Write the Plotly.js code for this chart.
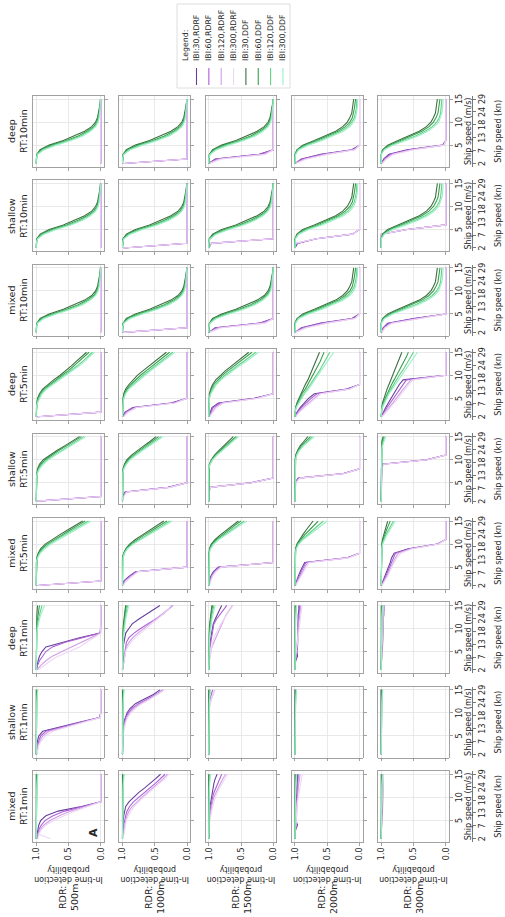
<!DOCTYPE html>
<html><head><meta charset="utf-8">
<script src="https://cdn.plot.ly/plotly-3.0.1.min.js"></script>
<style>
html,body{margin:0;padding:0;overflow:hidden;background:#fff;width:505px;height:917px;}
#wrap{position:absolute;left:0;top:0;width:917px;height:505px;transform-origin:0 0;transform:translate(0,917px) rotate(-90deg);}
#chart{width:917px;height:505px;}
</style></head><body><div id="wrap"><div id="chart"></div></div>
<script>
// ---------- categories / labels ----------
const speeds = [1,2,3,4,5,6,7,8,9,10,11,12,13,14,15];
const columnSites = ['mixed','shallow','deep','mixed','shallow','deep','mixed','shallow','deep'];
const columnRT = ['RT:1min','RT:1min','RT:1min','RT:5min','RT:5min','RT:5min','RT:10min','RT:10min','RT:10min'];
const rdrLabels = ['500m','1000m','1500m','2000m','3000m'];
const seriesNames = ['IBI:30,RDRF','IBI:60,RDRF','IBI:120,RDRF','IBI:300,RDRF','IBI:30,DDF','IBI:60,DDF','IBI:120,DDF','IBI:300,DDF'];
const seriesColors = ['#66409a','#ae5ed8','#d09fe6','#eed7f5','#3f6e45','#37a04c','#62d184','#97f0c8'];
const probTickVals = [0,0.5,1];
const probTickText = ['0.0','0.5','1.0'];
const speedTickVals = [5,10,15];
const knTickVals = [1,3.8,6.6,9.4,12.2,15];
const knTickText = ['2','7','13','18','24','29'];

// ---------- series values (probability at each speed) ----------
const zeros = [0,0,0,0,0,0,0,0,0,0,0,0,0,0,0];
const ones = [1,1,1,1,1,1,1,1,1,1,1,1,1,1,1];
const earlyDrop = [0.98,0,0,0,0,0,0,0,0,0,0,0,0,0,0];

// RT 1 min, RDRF
const rdrf_m1_500 = [
 [1,0.99,0.98,0.96,0.93,0.85,0.66,0.3,0,0,0,0,0,0,0],
 [0.99,0.98,0.96,0.92,0.86,0.74,0.56,0.27,0,0,0,0,0,0,0],
 [0.98,0.97,0.94,0.88,0.78,0.64,0.47,0.23,0,0,0,0,0,0,0],
 [0.78,0.96,0.92,0.85,0.72,0.57,0.4,0.2,0,0,0,0,0,0,0]];
const rdrf_m1_1000 = [
 [1,1,1,0.99,0.99,0.98,0.97,0.95,0.9,0.83,0.75,0.66,0.57,0.49,0.41],
 [1,1,0.99,0.98,0.97,0.95,0.93,0.89,0.83,0.75,0.67,0.58,0.49,0.41,0.34],
 [1,0.99,0.98,0.97,0.95,0.93,0.9,0.85,0.78,0.7,0.62,0.53,0.45,0.37,0.3],
 [0.99,0.98,0.97,0.96,0.94,0.91,0.87,0.82,0.75,0.67,0.58,0.5,0.42,0.35,0.28]];
const rdrf_m1_1500 = [
 [1,1,1,1,1,0.99,0.99,0.98,0.97,0.96,0.95,0.94,0.92,0.9,0.87],
 [1,1,1,1,0.99,0.99,0.98,0.97,0.96,0.94,0.92,0.89,0.86,0.83,0.8],
 [1,1,1,0.99,0.99,0.98,0.97,0.96,0.94,0.92,0.89,0.86,0.82,0.78,0.74],
 [1,1,0.99,0.99,0.98,0.97,0.96,0.94,0.92,0.9,0.87,0.83,0.79,0.75,0.71]];
const rdrf_m1_2000 = [
 [1,1,0.99,0.96,0.99,0.99,0.98,0.98,0.98,0.97,0.97,0.97,0.96,0.96,0.96],
 [1,1,0.99,0.98,0.98,0.98,0.98,0.97,0.97,0.97,0.96,0.96,0.96,0.95,0.95],
 [1,1,1,0.98,0.98,0.98,0.97,0.97,0.97,0.96,0.96,0.95,0.94,0.93,0.92],
 [1,1,1,0.99,0.98,0.98,0.97,0.97,0.96,0.95,0.94,0.93,0.91,0.9,0.88]];
const rdrf_m1_3000 = [
 [1,1,1,0.99,0.99,0.99,0.98,0.98,0.98,0.98,0.98,0.98,0.98,0.98,0.98],
 [1,1,1,1,0.99,0.99,0.99,0.98,0.98,0.98,0.98,0.98,0.98,0.97,0.97],
 [1,1,1,1,0.99,0.99,0.99,0.99,0.98,0.98,0.98,0.98,0.97,0.97,0.97],
 [1,1,1,1,1,0.99,0.99,0.99,0.99,0.98,0.98,0.98,0.97,0.97,0.96]];
const rdrf_s1_500 = [
 [1,1,0.99,0.98,0.96,0.9,0.63,0.32,0.02,0,0,0,0,0,0],
 [1,0.99,0.98,0.96,0.93,0.85,0.58,0.3,0.02,0,0,0,0,0,0],
 [0.99,0.98,0.97,0.94,0.9,0.8,0.54,0.27,0.01,0,0,0,0,0,0],
 [0.99,0.98,0.96,0.92,0.86,0.74,0.5,0.25,0.01,0,0,0,0,0,0]];
const rdrf_s1_1000 = [
 [1,1,1,1,1,1,0.99,0.98,0.96,0.93,0.88,0.8,0.66,0.52,0.42],
 [1,1,1,1,1,0.99,0.98,0.97,0.95,0.91,0.85,0.75,0.62,0.48,0.38],
 [1,1,1,1,0.99,0.99,0.98,0.96,0.93,0.89,0.82,0.72,0.59,0.46,0.36],
 [1,1,1,1,0.99,0.98,0.97,0.95,0.92,0.87,0.8,0.7,0.57,0.45,0.35]];
const rdrf_s1_1500 = [
 [1,1,1,1,1,1,1,1,1,1,1,1,0.99,0.99,0.98],
 [1,1,1,1,1,1,1,1,1,1,1,0.99,0.98,0.96,0.94],
 [1,1,1,1,1,1,1,1,1,1,0.99,0.98,0.96,0.94,0.91],
 [1,1,1,1,1,1,1,1,1,1,0.99,0.98,0.96,0.93,0.9]];
const rdrf_s1_high = [ones, ones, ones, ones];
const rdrf_d1_500 = [
 [1,0.99,0.97,0.95,0.91,0.85,0.61,0.33,0.01,0,0,0,0,0,0],
 [0.99,0.98,0.95,0.9,0.85,0.75,0.55,0.28,0.01,0,0,0,0,0,0],
 [0.99,0.93,0.85,0.75,0.6,0.45,0.3,0.15,0,0,0,0,0,0,0],
 [0.97,0.88,0.78,0.66,0.48,0.33,0.22,0.11,0,0,0,0,0,0,0]];
const rdrf_d1_1000 = [
 [1,0.99,0.98,0.99,1,0.99,0.98,0.97,0.95,0.9,0.85,0.75,0.64,0.53,0.42],
 [1,0.99,0.98,0.98,0.97,0.96,0.94,0.9,0.82,0.72,0.6,0.48,0.38,0.3,0.22],
 [1,0.99,0.98,0.97,0.96,0.94,0.9,0.84,0.76,0.67,0.58,0.49,0.4,0.31,0.22],
 [1,0.99,0.98,0.97,0.95,0.92,0.87,0.8,0.72,0.63,0.55,0.46,0.38,0.3,0.25]];
const rdrf_d1_1500 = [
 [1,1,1,1,0.99,0.99,0.98,0.97,0.96,0.95,0.93,0.9,0.87,0.84,0.8],
 [1,1,1,0.99,0.99,0.98,0.97,0.96,0.95,0.94,0.92,0.88,0.83,0.78,0.72],
 [1,1,0.99,0.98,0.97,0.95,0.92,0.89,0.86,0.83,0.8,0.77,0.73,0.68,0.63],
 [1,1,0.99,0.98,0.97,0.96,0.94,0.92,0.89,0.85,0.81,0.77,0.72,0.67,0.62]];
const rdrf_d1_2000 = [
 [1,1,0.99,0.96,0.97,0.96,0.96,0.96,0.96,0.95,0.95,0.95,0.95,0.94,0.94],
 [1,1,0.99,0.98,0.97,0.97,0.96,0.96,0.95,0.95,0.95,0.94,0.94,0.93,0.93],
 [1,1,1,0.99,0.98,0.97,0.97,0.96,0.96,0.95,0.94,0.94,0.93,0.92,0.91],
 [1,1,1,0.99,0.98,0.97,0.96,0.96,0.95,0.94,0.93,0.92,0.91,0.9,0.89]];
const rdrf_d1_3000 = [
 [1,1,1,0.99,0.99,0.98,0.98,0.98,0.97,0.97,0.97,0.97,0.96,0.96,0.96],
 [1,1,1,0.99,0.99,0.99,0.98,0.98,0.98,0.97,0.97,0.97,0.97,0.96,0.96],
 [1,1,1,1,0.99,0.99,0.98,0.98,0.98,0.98,0.97,0.97,0.97,0.97,0.96],
 [1,1,1,1,0.99,0.99,0.99,0.98,0.98,0.98,0.98,0.97,0.97,0.97,0.97]];

// RT 5 min, RDRF
const rdrf_5_500 = [earlyDrop, earlyDrop, earlyDrop, earlyDrop];
const rdrf_m5_1000 = [
 [1,0.98,0.9,0.8,0,0,0,0,0,0,0,0,0,0,0],
 [1,0.97,0.89,0.79,0,0,0,0,0,0,0,0,0,0,0],
 [0.99,0.95,0.86,0.77,0,0,0,0,0,0,0,0,0,0,0],
 [0.99,0.94,0.85,0.76,0,0,0,0,0,0,0,0,0,0,0]];
const rdrf_m5_1500 = [
 [1,0.99,0.97,0.93,0.85,0,0,0,0,0,0,0,0,0,0],
 [1,0.98,0.96,0.91,0.83,0,0,0,0,0,0,0,0,0,0],
 [1,0.98,0.95,0.9,0.82,0,0,0,0,0,0,0,0,0,0],
 [0.99,0.97,0.94,0.89,0.8,0,0,0,0,0,0,0,0,0,0]];
const rdrf_m5_2000 = [
 [1,0.98,0.95,0.92,0.89,0.85,0.2,0,0,0,0,0,0,0,0],
 [1,0.97,0.94,0.9,0.87,0.83,0.2,0,0,0,0,0,0,0,0],
 [0.99,0.96,0.92,0.88,0.85,0.8,0.18,0,0,0,0,0,0,0,0],
 [0.99,0.95,0.91,0.87,0.83,0.78,0.17,0,0,0,0,0,0,0,0]];
const rdrf_m5_3000 = [
 [1,0.97,0.94,0.91,0.88,0.86,0.84,0.8,0.58,0.13,0,0,0,0,0],
 [1,0.96,0.93,0.9,0.87,0.85,0.82,0.78,0.56,0.12,0,0,0,0,0],
 [0.99,0.95,0.91,0.88,0.85,0.82,0.78,0.74,0.54,0.12,0,0,0,0,0],
 [0.99,0.94,0.9,0.87,0.84,0.8,0.76,0.7,0.52,0.11,0,0,0,0,0]];
const rdrf_s5_1000 = [
 [1,1,0.96,0.3,0,0,0,0,0,0,0,0,0,0,0],
 [1,0.99,0.95,0.28,0,0,0,0,0,0,0,0,0,0,0],
 [1,0.99,0.94,0.27,0,0,0,0,0,0,0,0,0,0,0],
 [1,0.98,0.93,0.26,0,0,0,0,0,0,0,0,0,0,0]];
const rdrf_s5_1500 = [
 [1,1,1,0.99,0.35,0,0,0,0,0,0,0,0,0,0],
 [1,1,0.99,0.98,0.34,0,0,0,0,0,0,0,0,0,0],
 [1,1,0.99,0.98,0.33,0,0,0,0,0,0,0,0,0,0],
 [1,1,0.99,0.98,0.33,0,0,0,0,0,0,0,0,0,0]];
const rdrf_s5_2000 = [
 [1,1,1,1,1,0.95,0.25,0,0,0,0,0,0,0,0],
 [1,1,1,1,0.99,0.94,0.24,0,0,0,0,0,0,0,0],
 [1,1,1,1,0.99,0.93,0.23,0,0,0,0,0,0,0,0],
 [1,1,1,1,0.99,0.92,0.23,0,0,0,0,0,0,0,0]];
const rdrf_s5_3000 = [
 [1,1,1,1,1,1,1,1,0.99,0.3,0,0,0,0,0],
 [1,1,1,1,1,1,1,1,0.98,0.29,0,0,0,0,0],
 [1,1,1,1,1,1,1,0.99,0.97,0.28,0,0,0,0,0],
 [1,1,1,1,1,1,1,0.99,0.96,0.28,0,0,0,0,0]];
const rdrf_d5_1000 = [
 [1,0.96,0.84,0.25,0,0,0,0,0,0,0,0,0,0,0],
 [1,0.95,0.82,0.22,0,0,0,0,0,0,0,0,0,0,0],
 [0.99,0.93,0.79,0.2,0,0,0,0,0,0,0,0,0,0,0],
 [0.98,0.91,0.78,0.18,0,0,0,0,0,0,0,0,0,0,0]];
const rdrf_d5_1500 = [
 [1,0.98,0.95,0.85,0.3,0,0,0,0,0,0,0,0,0,0],
 [1,0.97,0.93,0.82,0.28,0,0,0,0,0,0,0,0,0,0],
 [0.99,0.95,0.9,0.79,0.25,0,0,0,0,0,0,0,0,0,0],
 [0.99,0.94,0.88,0.77,0.24,0,0,0,0,0,0,0,0,0,0]];
const rdrf_d5_2000 = [
 [1,0.97,0.92,0.86,0.79,0.7,0.2,0,0,0,0,0,0,0,0],
 [1,0.96,0.9,0.83,0.75,0.66,0.18,0,0,0,0,0,0,0,0],
 [0.99,0.94,0.87,0.79,0.71,0.62,0.16,0,0,0,0,0,0,0,0],
 [0.99,0.93,0.85,0.77,0.69,0.6,0.15,0,0,0,0,0,0,0,0]];
const rdrf_d5_3000 = [
 [1,0.97,0.93,0.89,0.85,0.81,0.77,0.72,0.66,0,0,0,0,0,0],
 [1,0.96,0.91,0.86,0.81,0.77,0.72,0.67,0.61,0,0,0,0,0,0],
 [0.99,0.94,0.88,0.82,0.77,0.71,0.66,0.6,0.54,0,0,0,0,0,0],
 [0.99,0.92,0.86,0.8,0.74,0.68,0.62,0.57,0.51,0,0,0,0,0,0]];

// RT 10 min, RDRF
const rdrf_10_500 = [zeros, zeros, zeros, zeros];
const rdrf_10_1000 = [earlyDrop, earlyDrop, earlyDrop, earlyDrop];
const rdrf_md10_1500 = [
 [1,0.9,0.22,0,0,0,0,0,0,0,0,0,0,0,0],
 [1,0.88,0.2,0,0,0,0,0,0,0,0,0,0,0,0],
 [1,0.85,0.15,0,0,0,0,0,0,0,0,0,0,0,0],
 [0.99,0.8,0.12,0,0,0,0,0,0,0,0,0,0,0,0]];
const rdrf_s10_1500 = [
 [1,0.96,0,0,0,0,0,0,0,0,0,0,0,0,0],
 [1,0.97,0,0,0,0,0,0,0,0,0,0,0,0,0],
 [1,0.97,0,0,0,0,0,0,0,0,0,0,0,0,0],
 [1,0.97,0,0,0,0,0,0,0,0,0,0,0,0,0]];
const rdrf_md10_2000 = [
 [1,0.9,0.6,0.12,0,0,0,0,0,0,0,0,0,0,0],
 [1,0.88,0.57,0.1,0,0,0,0,0,0,0,0,0,0,0],
 [1,0.85,0.52,0.08,0,0,0,0,0,0,0,0,0,0,0],
 [0.99,0.82,0.5,0.07,0,0,0,0,0,0,0,0,0,0,0]];
const rdrf_s10_2000 = [
 [1,0.96,0.67,0.11,0,0,0,0,0,0,0,0,0,0,0],
 [1,0.98,0.67,0.11,0,0,0,0,0,0,0,0,0,0,0],
 [1,1,0.67,0.11,0,0,0,0,0,0,0,0,0,0,0],
 [1,1,0.67,0.11,0,0,0,0,0,0,0,0,0,0,0]];
const rdrf_m10_3000 = [
 [1,0.97,0.9,0.5,0,0,0,0,0,0,0,0,0,0,0],
 [1,0.96,0.88,0.48,0,0,0,0,0,0,0,0,0,0,0],
 [0.99,0.95,0.85,0.45,0,0,0,0,0,0,0,0,0,0,0],
 [0.99,0.94,0.83,0.44,0,0,0,0,0,0,0,0,0,0,0]];
const rdrf_s10_3000 = [
 [1,1,1,1,0.6,0,0,0,0,0,0,0,0,0,0],
 [1,1,1,1,0.6,0,0,0,0,0,0,0,0,0,0],
 [1,1,1,1,0.6,0,0,0,0,0,0,0,0,0,0],
 [1,1,1,1,0.6,0,0,0,0,0,0,0,0,0,0]];
const rdrf_d10_3000 = [
 [1,0.96,0.88,0.6,0.05,0,0,0,0,0,0,0,0,0,0],
 [1,0.95,0.86,0.57,0.04,0,0,0,0,0,0,0,0,0,0],
 [0.99,0.93,0.83,0.53,0.03,0,0,0,0,0,0,0,0,0,0],
 [0.99,0.92,0.81,0.5,0.03,0,0,0,0,0,0,0,0,0,0]];

// DDF
const ddf_flat = [
 [1,1,1,1,1,1,1,1,1,1,1,1,1,1,1],
 [1,1,1,1,1,1,1,1,1,1,1,1,1,0.995,0.99],
 [1,1,1,1,1,1,1,1,1,1,1,0.995,0.99,0.985,0.98],
 [1,1,1,1,1,1,1,1,1,1,0.995,0.99,0.985,0.98,0.975]];
const ddf_d1_500 = [
 [1,1,1,1,1,1,1,1,1,1,1,0.995,0.99,0.985,0.98],
 [1,1,1,1,1,1,1,1,1,1,0.99,0.98,0.97,0.96,0.95],
 [1,1,1,1,1,1,1,1,1,0.99,0.98,0.97,0.95,0.93,0.91],
 [1,1,1,1,1,1,1,1,0.99,0.98,0.97,0.95,0.93,0.9,0.87]];
const ddf_d1_1000 = [
 [1,1,1,1,1,1,1,1,0.995,0.99,0.985,0.98,0.97,0.96,0.95],
 [1,1,1,1,1,1,1,0.995,0.99,0.985,0.98,0.97,0.96,0.95,0.94],
 [1,1,1,1,1,1,0.995,0.99,0.985,0.98,0.97,0.96,0.95,0.94,0.92],
 [1,1,1,1,1,1,0.99,0.985,0.98,0.97,0.96,0.95,0.94,0.92,0.9]];
const ddf_m5_500 = [
 [1,1,1,1,1,1,0.99,0.97,0.93,0.86,0.76,0.64,0.52,0.4,0.28],
 [1,1,1,1,1,1,0.99,0.96,0.91,0.83,0.72,0.6,0.48,0.36,0.24],
 [1,1,1,1,1,1,0.98,0.95,0.89,0.8,0.69,0.56,0.44,0.31,0.19],
 [1,1,1,1,1,1,0.98,0.94,0.87,0.77,0.65,0.52,0.4,0.27,0.15]];
const ddf_m5_1000 = [
 [1,1,1,1,1,1,1,0.98,0.95,0.89,0.8,0.69,0.58,0.47,0.36],
 [1,1,1,1,1,1,1,0.98,0.94,0.87,0.77,0.66,0.54,0.43,0.31],
 [1,1,1,1,1,1,0.99,0.97,0.93,0.85,0.74,0.62,0.5,0.38,0.27],
 [1,1,1,1,1,1,0.99,0.97,0.92,0.83,0.72,0.59,0.47,0.35,0.23]];
const ddf_m5_1500 = [
 [1,1,1,1,1,1,1,1,0.99,0.96,0.9,0.82,0.73,0.64,0.54],
 [1,1,1,1,1,1,1,1,0.98,0.95,0.88,0.79,0.7,0.6,0.5],
 [1,1,1,1,1,1,1,0.99,0.98,0.93,0.86,0.76,0.66,0.55,0.45],
 [1,1,1,1,1,1,1,0.99,0.97,0.92,0.84,0.74,0.63,0.52,0.41]];
const ddf_m5_2000 = [
 [1,1,1,1,1,1,1,1,0.99,0.97,0.93,0.88,0.83,0.78,0.72],
 [1,1,1,1,1,1,1,1,0.99,0.96,0.91,0.85,0.78,0.71,0.64],
 [1,1,1,1,1,1,1,1,0.98,0.95,0.89,0.81,0.73,0.64,0.56],
 [1,1,1,1,1,1,1,0.99,0.98,0.94,0.87,0.78,0.69,0.59,0.5]];
const ddf_m5_3000 = [
 [1,1,1,1,1,1,1,1,1,0.99,0.98,0.96,0.94,0.92,0.9],
 [1,1,1,1,1,1,1,1,1,0.99,0.97,0.95,0.92,0.89,0.86],
 [1,1,1,1,1,1,1,1,0.99,0.98,0.96,0.93,0.89,0.85,0.81],
 [1,1,1,1,1,1,1,1,0.99,0.98,0.95,0.91,0.87,0.83,0.78]];
const ddf_s5_500 = [
 [1,1,1,1,1,1,0.99,0.98,0.95,0.89,0.79,0.68,0.56,0.45,0.33],
 [1,1,1,1,1,1,0.99,0.97,0.93,0.86,0.76,0.65,0.53,0.41,0.3],
 [1,1,1,1,1,1,0.99,0.96,0.91,0.83,0.72,0.61,0.49,0.37,0.26],
 [1,1,1,1,1,1,0.98,0.95,0.89,0.81,0.7,0.58,0.46,0.34,0.23]];
const ddf_s5_1000 = [
 [1,1,1,1,1,1,1,0.99,0.97,0.93,0.86,0.77,0.67,0.57,0.48],
 [1,1,1,1,1,1,1,0.99,0.96,0.91,0.83,0.74,0.64,0.54,0.44],
 [1,1,1,1,1,1,1,0.98,0.95,0.89,0.81,0.71,0.61,0.5,0.4],
 [1,1,1,1,1,1,0.99,0.98,0.94,0.88,0.79,0.69,0.58,0.47,0.37]];
const ddf_s5_1500 = [
 [1,1,1,1,1,1,1,1,0.99,0.96,0.91,0.84,0.77,0.7,0.62],
 [1,1,1,1,1,1,1,1,0.99,0.95,0.9,0.82,0.74,0.66,0.58],
 [1,1,1,1,1,1,1,1,0.98,0.94,0.88,0.8,0.72,0.64,0.56],
 [1,1,1,1,1,1,1,1,0.98,0.94,0.87,0.79,0.7,0.62,0.54]];
const ddf_s5_2000 = [
 [1,1,1,1,1,1,1,1,1,1,0.99,0.96,0.92,0.86,0.8],
 [1,1,1,1,1,1,1,1,1,1,0.98,0.95,0.9,0.83,0.76],
 [1,1,1,1,1,1,1,1,1,0.99,0.98,0.94,0.88,0.81,0.73],
 [1,1,1,1,1,1,1,1,1,0.99,0.97,0.93,0.87,0.79,0.7]];
const ddf_s5_3000 = [
 [1,1,1,1,1,1,1,1,1,1,1,1,1,0.99,0.97],
 [1,1,1,1,1,1,1,1,1,1,1,1,0.99,0.98,0.96],
 [1,1,1,1,1,1,1,1,1,1,1,0.995,0.99,0.97,0.95],
 [1,1,1,1,1,1,1,1,1,1,1,0.99,0.98,0.96,0.93]];
const ddf_d5_500 = [
 [1,1,1,0.99,0.98,0.95,0.9,0.82,0.73,0.63,0.54,0.46,0.38,0.3,0.22],
 [1,1,1,0.99,0.97,0.94,0.88,0.79,0.7,0.6,0.5,0.42,0.33,0.25,0.18],
 [1,1,1,0.99,0.96,0.92,0.86,0.76,0.66,0.56,0.46,0.37,0.28,0.2,0.13],
 [1,1,1,0.98,0.95,0.91,0.84,0.74,0.63,0.53,0.43,0.34,0.25,0.17,0.1]];
const ddf_d5_1000 = [
 [1,1,1,1,0.99,0.98,0.95,0.9,0.84,0.77,0.68,0.59,0.5,0.41,0.32],
 [1,1,1,1,0.99,0.97,0.93,0.87,0.8,0.72,0.63,0.54,0.45,0.36,0.27],
 [1,1,1,0.99,0.98,0.96,0.91,0.84,0.76,0.68,0.59,0.49,0.4,0.31,0.22],
 [1,1,1,0.99,0.98,0.95,0.9,0.82,0.74,0.65,0.56,0.46,0.37,0.28,0.19]];
const ddf_d5_1500 = [
 [1,1,1,1,1,0.99,0.97,0.94,0.89,0.82,0.74,0.65,0.56,0.47,0.38],
 [1,1,1,1,0.99,0.98,0.96,0.92,0.86,0.79,0.7,0.61,0.51,0.42,0.33],
 [1,1,1,1,0.99,0.97,0.94,0.89,0.83,0.75,0.66,0.56,0.46,0.36,0.27],
 [1,1,1,1,0.99,0.97,0.93,0.88,0.81,0.72,0.63,0.53,0.42,0.32,0.23]];
const ddf_d5_2000 = [
 [1,1,0.99,0.97,0.94,0.91,0.87,0.84,0.8,0.77,0.74,0.71,0.68,0.65,0.62],
 [1,1,0.99,0.96,0.93,0.89,0.84,0.8,0.76,0.72,0.68,0.65,0.61,0.58,0.55],
 [1,1,0.98,0.95,0.91,0.86,0.81,0.76,0.71,0.67,0.62,0.58,0.54,0.5,0.46],
 [1,1,0.98,0.94,0.9,0.85,0.79,0.74,0.69,0.64,0.59,0.54,0.49,0.45,0.4]];
const ddf_d5_3000 = [
 [1,1,0.99,0.98,0.96,0.94,0.91,0.88,0.85,0.82,0.79,0.76,0.73,0.7,0.68],
 [1,1,0.99,0.97,0.94,0.91,0.88,0.84,0.8,0.76,0.72,0.68,0.65,0.61,0.58],
 [1,1,0.99,0.96,0.93,0.89,0.85,0.81,0.76,0.72,0.67,0.63,0.58,0.54,0.5],
 [1,1,0.98,0.95,0.92,0.88,0.83,0.78,0.73,0.68,0.63,0.58,0.53,0.48,0.44]];
const ddf_10_near = [
 [1,1,0.99,0.94,0.8,0.58,0.4,0.25,0.14,0.08,0.05,0.035,0.02,0.01,0.005],
 [1,1,0.99,0.92,0.76,0.53,0.35,0.21,0.11,0.06,0.04,0.025,0.015,0.01,0.004],
 [1,1,0.98,0.9,0.72,0.49,0.31,0.18,0.09,0.05,0.03,0.02,0.01,0.006,0.003],
 [1,1,0.98,0.88,0.69,0.46,0.28,0.16,0.08,0.04,0.025,0.015,0.008,0.004,0.002]];
const ddf_10_2000 = [
 [1,1,1,0.97,0.88,0.7,0.52,0.37,0.26,0.19,0.15,0.12,0.11,0.1,0.09],
 [1,1,1,0.96,0.85,0.66,0.48,0.33,0.22,0.15,0.11,0.09,0.08,0.07,0.06],
 [1,1,1,0.95,0.82,0.62,0.44,0.29,0.18,0.12,0.08,0.06,0.05,0.045,0.04],
 [1,1,0.99,0.94,0.79,0.58,0.4,0.25,0.15,0.09,0.06,0.045,0.035,0.03,0.03]];
const ddf_10_3000 = [
 [1,1,1,0.98,0.9,0.74,0.56,0.41,0.3,0.23,0.19,0.16,0.15,0.14,0.13],
 [1,1,1,0.97,0.87,0.7,0.52,0.37,0.26,0.19,0.15,0.12,0.11,0.1,0.09],
 [1,1,1,0.96,0.84,0.66,0.47,0.32,0.21,0.14,0.1,0.08,0.07,0.06,0.06],
 [1,1,1,0.95,0.82,0.62,0.43,0.28,0.18,0.11,0.08,0.06,0.05,0.05,0.04]];

// panel table: rows = RDR, columns = site/RT
const panelRDRF = [
 [rdrf_m1_500, rdrf_s1_500, rdrf_d1_500, rdrf_5_500, rdrf_5_500, rdrf_5_500, rdrf_10_500, rdrf_10_500, rdrf_10_500],
 [rdrf_m1_1000, rdrf_s1_1000, rdrf_d1_1000, rdrf_m5_1000, rdrf_s5_1000, rdrf_d5_1000, rdrf_10_1000, rdrf_10_1000, rdrf_10_1000],
 [rdrf_m1_1500, rdrf_s1_1500, rdrf_d1_1500, rdrf_m5_1500, rdrf_s5_1500, rdrf_d5_1500, rdrf_md10_1500, rdrf_s10_1500, rdrf_md10_1500],
 [rdrf_m1_2000, rdrf_s1_high, rdrf_d1_2000, rdrf_m5_2000, rdrf_s5_2000, rdrf_d5_2000, rdrf_md10_2000, rdrf_s10_2000, rdrf_md10_2000],
 [rdrf_m1_3000, rdrf_s1_high, rdrf_d1_3000, rdrf_m5_3000, rdrf_s5_3000, rdrf_d5_3000, rdrf_m10_3000, rdrf_s10_3000, rdrf_d10_3000]];
const panelDDF = [
 [ddf_flat, ddf_flat, ddf_d1_500, ddf_m5_500, ddf_s5_500, ddf_d5_500, ddf_10_near, ddf_10_near, ddf_10_near],
 [ddf_flat, ddf_flat, ddf_d1_1000, ddf_m5_1000, ddf_s5_1000, ddf_d5_1000, ddf_10_near, ddf_10_near, ddf_10_near],
 [ddf_flat, ddf_flat, ddf_d1_1000, ddf_m5_1500, ddf_s5_1500, ddf_d5_1500, ddf_10_near, ddf_10_near, ddf_10_near],
 [ddf_flat, ddf_flat, ddf_flat, ddf_m5_2000, ddf_s5_2000, ddf_d5_2000, ddf_10_2000, ddf_10_2000, ddf_10_2000],
 [ddf_flat, ddf_flat, ddf_flat, ddf_m5_3000, ddf_s5_3000, ddf_d5_3000, ddf_10_3000, ddf_10_3000, ddf_10_3000]];

// ---------- build figure ----------
const FW = 917, FH = 505;
const PW = 71, PH = 71;
const frameColor = '#8a8a8a';
const textColor = '#262626';
const traces = [];
const layout = {
  width: FW, height: FH, margin: {l:0, r:0, t:0, b:0},
  paper_bgcolor: '#ffffff', plot_bgcolor: '#ffffff', showlegend: false, hovermode: false,
  font: {family: 'DejaVu Sans, sans-serif', size: 8, color: textColor},
  annotations: [], shapes: []
};
function ax(n){ return n === 1 ? '' : String(n); }
for (let i = 0; i < 5; i++) {
  for (let j = 0; j < 9; j++) {
    const k = i * 9 + j + 1;
    const L = 75 + 84.4 * j, T = 33 + 86.25 * i;
    const common = {showline: true, mirror: true, linecolor: frameColor, linewidth: 0.8,
      ticks: 'outside', ticklen: 3, tickwidth: 0.8, tickcolor: frameColor,
      showgrid: true, gridcolor: '#e3e3e3', gridwidth: 0.8, zeroline: false,
      tickfont: {size: 8, color: textColor}};
    layout['xaxis' + ax(k)] = Object.assign({}, common, {
      domain: [L / FW, (L + PW) / FW], anchor: 'y' + ax(k), range: [0.3, 15.7],
      tickmode: 'array', tickvals: speedTickVals, ticktext: speedTickVals.map(String),
      showticklabels: i === 4,
      title: i === 4 ? {text: 'Ship speed (m/s)', font: {size: 8, color: textColor}, standoff: 1} : undefined
    });
    layout['yaxis' + ax(k)] = Object.assign({}, common, {
      domain: [1 - (T + PH) / FH, 1 - T / FH], anchor: 'x' + ax(k), range: [-0.05, 1.05],
      tickmode: 'array', tickvals: probTickVals, ticktext: probTickText,
      showticklabels: j === 0,
      title: j === 0 ? {text: 'In-time detection<br>probability', font: {size: 8, color: textColor}, standoff: 4} : undefined
    });
    const sets = panelRDRF[i][j].concat(panelDDF[i][j]);
    sets.forEach((ys, s) => {
      traces.push({x: speeds, y: ys, xaxis: 'x' + ax(k), yaxis: 'y' + ax(k), type: 'scatter', mode: 'lines',
        name: seriesNames[s], showlegend: false, hoverinfo: 'skip',
        line: {color: seriesColors[s], width: 1.1}});
    });
    if (i === 0) {
      layout.annotations.push({xref: 'paper', yref: 'paper', x: (L + PW / 2) / FW, y: 1 - 31 / FH,
        xanchor: 'center', yanchor: 'bottom', showarrow: false, align: 'center',
        text: columnSites[j] + '<br>' + columnRT[j], font: {size: 9.5, color: textColor}});
    }
    if (j === 0) {
      layout.annotations.push({xref: 'paper', yref: 'paper', x: 19 / FW, y: 1 - (T + PH / 2) / FH,
        xanchor: 'center', yanchor: 'middle', showarrow: false, align: 'center',
        text: 'RDR:<br>' + rdrLabels[i], font: {size: 9.5, color: textColor}});
    }
  }
}
// secondary (knots) axes under the bottom row
for (let j = 0; j < 9; j++) {
  const id = 46 + j, base = 37 + j;
  const L = 75 + 84.4 * j;
  layout['xaxis' + id] = {
    domain: [L / FW, (L + PW) / FW], overlaying: 'x' + base, anchor: 'free', position: 1 - 472 / FH,
    side: 'bottom', range: [0.3, 15.7], tickmode: 'array', tickvals: knTickVals, ticktext: knTickText,
    showline: true, linecolor: '#555', linewidth: 0.8, ticks: 'outside', ticklen: 3, tickwidth: 0.8, tickcolor: '#555',
    showgrid: false, zeroline: false, tickfont: {size: 8, color: textColor},
    title: {text: 'Ship speed (kn)', font: {size: 8, color: textColor}, standoff: 8}
  };
  traces.push({x: [knTickVals[0], knTickVals[knTickVals.length - 1]], y: [null, null], xaxis: 'x' + id, yaxis: 'y' + base,
    type: 'scatter', mode: 'lines', showlegend: false, hoverinfo: 'skip', line: {width: 0}});
}
// panel tag
layout.annotations.push({xref: 'paper', yref: 'paper', x: 78 / FW, y: 1 - 102 / FH, xanchor: 'left', yanchor: 'bottom',
  showarrow: false, text: '<b>A</b>', font: {size: 11, color: textColor}});
// legend box (drawn in paper space)
const LG = {x0: 829, x1: 913, y0: 177, y1: 290};
layout.shapes.push({type: 'rect', xref: 'paper', yref: 'paper', x0: LG.x0 / FW, x1: LG.x1 / FW,
  y0: 1 - LG.y1 / FH, y1: 1 - LG.y0 / FH, line: {color: '#d5d5d5', width: 0.8}, fillcolor: 'rgba(255,255,255,0.9)', layer: 'above'});
layout.annotations.push({xref: 'paper', yref: 'paper', x: 871 / FW, y: 1 - 185 / FH, xanchor: 'center', yanchor: 'middle',
  showarrow: false, text: 'Legend:', font: {size: 7.8, color: textColor}});
seriesNames.forEach((nm, s) => {
  const yc = 1 - (196.5 + 12.35 * s) / FH;
  layout.shapes.push({type: 'line', xref: 'paper', yref: 'paper', x0: 832 / FW, x1: 849 / FW, y0: yc, y1: yc,
    line: {color: seriesColors[s], width: 1.1}, layer: 'above'});
  layout.annotations.push({xref: 'paper', yref: 'paper', x: 854 / FW, y: yc, xanchor: 'left', yanchor: 'middle',
    showarrow: false, text: nm, font: {size: 7.8, color: textColor}});
});
Plotly.newPlot('chart', traces, layout, {staticPlot: true, displayModeBar: false});
</script></body></html>
